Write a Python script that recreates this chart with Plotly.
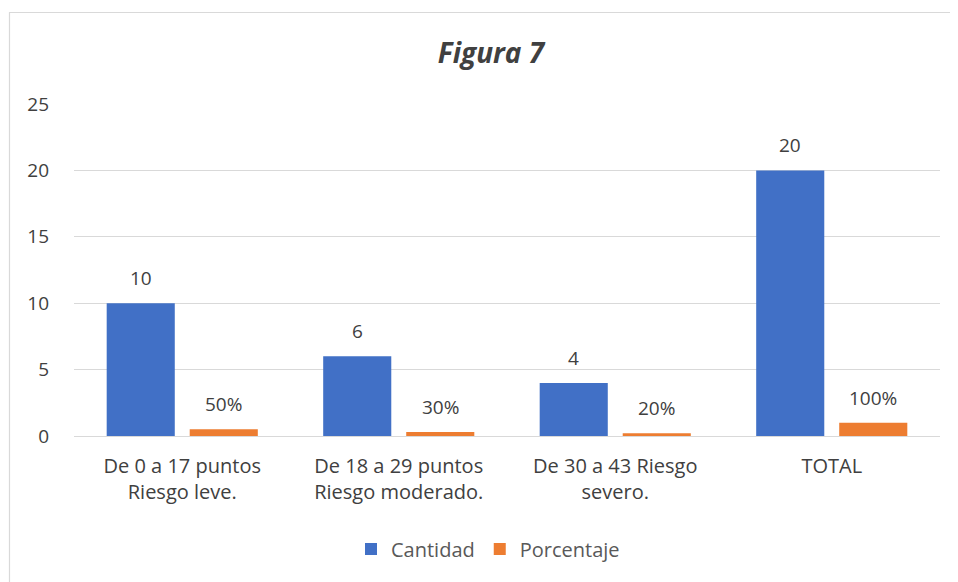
import plotly.graph_objects as go

categories = ["De 0 a 17 puntos<br>Riesgo leve.", "De 18 a 29 puntos<br>Riesgo moderado.",
              "De 30 a 43 Riesgo<br>severo.", "TOTAL"]
cantidad = [10, 6, 4, 20]
porcentaje = [0.5, 0.3, 0.2, 1.0]
porcentaje_labels = ["50%", "30%", "20%", "100%"]
y_ticks = [0, 5, 10, 15, 20, 25]

FONT = "'Open Sans', 'Noto Sans', sans-serif"
OFF = 8  # page body margin
W, H = 958 - OFF, 582 - OFF
L, R, T, B = 74 - OFF, 18, 104 - OFF, 146
pw, ph = W - L - R, H - T - B


def px_x(x):  # page x -> paper fraction
    return (x - OFF - L) / pw


def px_y(y):  # page y -> paper fraction
    return (H - B - (y - OFF)) / ph


fig = go.Figure()
fig.add_trace(go.Bar(
    x=categories, y=cantidad, name="Cantidad",
    marker=dict(color="#4170C6", line=dict(width=0)),
))
fig.add_trace(go.Bar(
    x=categories, y=porcentaje, name="Porcentaje",
    marker=dict(color="#ED7D31", line=dict(width=0)),
))

cat_w = pw / len(categories)
slot = cat_w * (1 - 0.233) / 2
annotations = []
for c, v in zip(categories, cantidad):
    annotations.append(dict(x=c, y=v, xref="x", yref="y", text=str(v), showarrow=False,
                            xshift=-slot / 2, yshift=25, yanchor="middle",
                            font=dict(size=19, color="#404040", family=FONT)))
for c, v, t in zip(categories, porcentaje, porcentaje_labels):
    annotations.append(dict(x=c, y=v, xref="x", yref="y", text=t, showarrow=False,
                            xshift=slot / 2, yshift=25, yanchor="middle",
                            font=dict(size=19, color="#404040", family=FONT)))

fig.update_layout(
    width=W, height=H,
    margin=dict(l=L, r=R, t=T, b=B),
    paper_bgcolor="white", plot_bgcolor="white",
    barmode="group", bargap=0.233, bargroupgap=0.18,
    font=dict(family=FONT, color="#595959", size=17),
    title=dict(text="<b><i>Figura 7</i></b>", x=px_x(491), xref="paper", xanchor="center",
               y=1 - (53 - OFF) / H, yref="container", yanchor="middle",
               font=dict(size=28, color="#404040", family=FONT)),
    showlegend=True,
    legend=dict(orientation="h", x=px_x(488), xanchor="center", xref="paper",
                y=px_y(549), yanchor="middle",
                font=dict(size=20, color="#595959", family=FONT),
                itemwidth=30, traceorder="normal"),
    annotations=annotations,
    shapes=[dict(type="rect", xref="paper", yref="paper",
                 x0=px_x(9.5), x1=px_x(990), y0=px_y(620), y1=px_y(12.5),
                 line=dict(color="#D9D9D9", width=1.2), fillcolor="rgba(0,0,0,0)", layer="below")],
)
fig.update_xaxes(showgrid=False, showline=True, linecolor="#D9D9D9", linewidth=1,
                 ticks="", ticklabelstandoff=12, tickfont=dict(size=20, color="#404040"))
fig.update_yaxes(range=[0, 25], tickvals=y_ticks, showgrid=True, gridcolor="#D9D9D9",
                 gridwidth=1, zeroline=False, showline=False, ticks="",
                 ticklabelstandoff=24, tickfont=dict(size=19, color="#404040"))

fig.write_html("out.html")
